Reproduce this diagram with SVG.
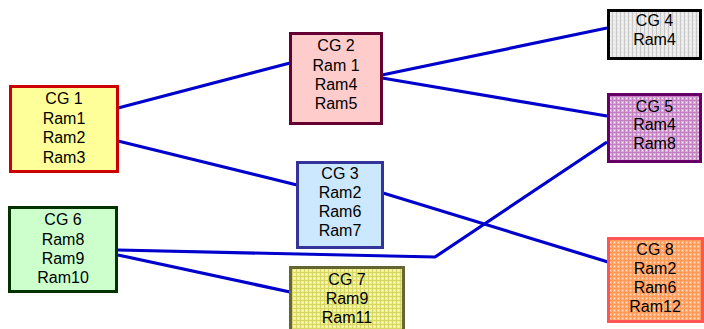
<svg xmlns="http://www.w3.org/2000/svg" width="704" height="329" viewBox="0 0 704 329">
  <defs>
    <!-- fine textured fills -->
    <pattern id="texGray" width="4" height="4" patternUnits="userSpaceOnUse">
      <rect width="4" height="4" fill="#e9e9e9"/>
      <rect x="0" y="0" width="1" height="4" fill="#c8c8c8"/>
      <rect x="2" y="2" width="1" height="1" fill="#ffffff"/>
    </pattern>
    <pattern id="texPurple" width="4" height="4" patternUnits="userSpaceOnUse">
      <rect width="4" height="4" fill="#dcaedc"/>
      <rect x="0" y="0" width="4" height="1" fill="#c27fc2"/>
      <rect x="0" y="0" width="1" height="4" fill="#c27fc2"/>
      <rect x="2" y="2" width="1" height="1" fill="#f8eef8"/>
    </pattern>
    <pattern id="texYellow" width="4" height="4" patternUnits="userSpaceOnUse">
      <rect width="4" height="4" fill="#f2f28c"/>
      <rect x="0" y="0" width="4" height="1" fill="#d6d666"/>
      <rect x="0" y="0" width="1" height="4" fill="#d6d666"/>
      <rect x="2" y="2" width="1" height="1" fill="#ffffcc"/>
    </pattern>
    <pattern id="texOrange" width="4" height="4" patternUnits="userSpaceOnUse">
      <rect width="4" height="4" fill="#ffb380"/>
      <rect x="0" y="0" width="4" height="1" fill="#ff9955"/>
      <rect x="0" y="0" width="1" height="4" fill="#ff9955"/>
      <rect x="2" y="2" width="1" height="1" fill="#ffe0cc"/>
    </pattern>
  </defs>
  <style>
    .box { stroke-width: 3; }
    .lbl { font-family: "Liberation Sans", Arial, sans-serif; font-size: 16px; fill: #000; text-anchor: middle; }
    .edge { fill: none; stroke: #0000cc; stroke-width: 3.2; stroke-linejoin: miter; }
  </style>

  <g id="connectors">
    <line class="edge" x1="118" y1="108" x2="290" y2="63"/>
    <line class="edge" x1="118" y1="141" x2="297" y2="185"/>
    <line class="edge" x1="382" y1="75" x2="607" y2="28"/>
    <line class="edge" x1="382" y1="78" x2="607" y2="116"/>
    <line class="edge" x1="383" y1="193" x2="608" y2="262"/>
    <polyline class="edge" points="118,250 435,257 607,142"/>
    <line class="edge" x1="118" y1="255" x2="290" y2="292"/>
  </g>

  <g id="cg1">
    <rect class="box" x="10.5" y="86.5" width="107" height="85" fill="#ffff99" stroke="#cc0000"/>
    <text class="lbl" x="64" y="104">CG 1</text>
    <text class="lbl" x="64" y="123.5">Ram1</text>
    <text class="lbl" x="64" y="143">Ram2</text>
    <text class="lbl" x="64" y="162.5">Ram3</text>
  </g>

  <g id="cg2">
    <rect class="box" x="290.5" y="33.5" width="91" height="90" fill="#ffcccc" stroke="#660033"/>
    <text class="lbl" x="336" y="51">CG 2</text>
    <text class="lbl" x="336" y="70.5">Ram 1</text>
    <text class="lbl" x="336" y="89.5">Ram4</text>
    <text class="lbl" x="336" y="108.5">Ram5</text>
  </g>

  <g id="cg3">
    <rect class="box" x="297.5" y="162.5" width="85" height="85" fill="#cce8ff" stroke="#333399"/>
    <text class="lbl" x="340" y="179">CG 3</text>
    <text class="lbl" x="340" y="198">Ram2</text>
    <text class="lbl" x="340" y="217">Ram6</text>
    <text class="lbl" x="340" y="236">Ram7</text>
  </g>

  <g id="cg4">
    <rect class="box" x="608.5" y="10.5" width="92" height="48" fill="url(#texGray)" stroke="#000000"/>
    <text class="lbl" x="654.5" y="26">CG 4</text>
    <text class="lbl" x="654.5" y="45">Ram4</text>
  </g>

  <g id="cg5">
    <rect class="box" x="608.5" y="94.5" width="92" height="67" fill="url(#texPurple)" stroke="#660066"/>
    <text class="lbl" x="654.5" y="111.5">CG 5</text>
    <text class="lbl" x="654.5" y="130">Ram4</text>
    <text class="lbl" x="654.5" y="148.5">Ram8</text>
  </g>

  <g id="cg6">
    <rect class="box" x="9.5" y="207.5" width="107" height="84" fill="#ccffcc" stroke="#003300"/>
    <text class="lbl" x="63" y="225">CG 6</text>
    <text class="lbl" x="63" y="244.5">Ram8</text>
    <text class="lbl" x="63" y="264">Ram9</text>
    <text class="lbl" x="63" y="283">Ram10</text>
  </g>

  <g id="cg7">
    <rect class="box" x="290.5" y="267.5" width="113" height="70" fill="url(#texYellow)" stroke="#666633"/>
    <text class="lbl" x="347" y="285">CG 7</text>
    <text class="lbl" x="347" y="304">Ram9</text>
    <text class="lbl" x="347" y="323">Ram11</text>
  </g>

  <g id="cg8">
    <rect class="box" x="608.5" y="238.5" width="94" height="83" fill="url(#texOrange)" stroke="#ff5555"/>
    <text class="lbl" x="655" y="254.5">CG 8</text>
    <text class="lbl" x="655" y="273.5">Ram2</text>
    <text class="lbl" x="655" y="292.5">Ram6</text>
    <text class="lbl" x="655" y="312">Ram12</text>
  </g>
</svg>
